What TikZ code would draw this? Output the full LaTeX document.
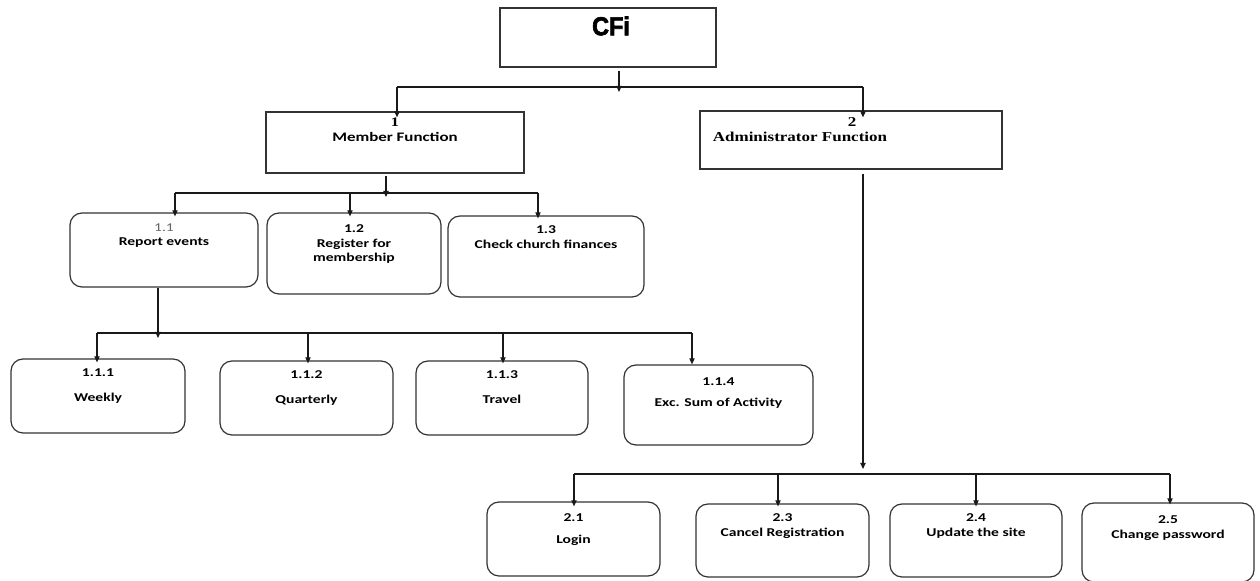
\documentclass[tikz,border=0pt]{standalone}
\usepackage{fontspec}
\newfontfamily\boxfont{Carlito}[FakeStretch=1.3]
\newfontfamily\serfont{Liberation Serif}[FakeStretch=1.25]
\newfontfamily\headfont{Liberation Sans}[FakeStretch=0.9,FakeBold=2.5]
\usetikzlibrary{arrows.meta,positioning}

\begin{document}
\begin{tikzpicture}[x=0.5pt,y=-0.5pt,
   sq/.style={draw=black!80,line width=0.6pt,inner sep=0pt},
   rbox/.style={sq,rounded corners=6pt},
   lbl/.style={inner sep=0pt,align=center,font=\boxfont\bfseries\fontsize{6}{7.2}\selectfont},
   conn/.style={draw=black!90,line width=0.55pt},
   arr/.style={conn,-{Triangle[length=3pt,width=2.6pt]}}]
   \useasboundingbox (0,0) rectangle (1260,581);

   % top level
   \node[sq,minimum width=108pt,minimum height=29.5pt] (cfi) at (608,37.5) {};
   \node[inner sep=0pt,font=\headfont\bfseries\fontsize{13}{14}\selectfont] (cfi_t) at (611,26) {CFi};

   % functions
   \node[sq,minimum width=129pt,minimum height=30.5pt] (m_1) at (395,142.5) {};
   \node[lbl,font=\boxfont\bfseries\fontsize{6.5}{7.5}\selectfont,below=3.3pt of m_1.north] (m_1t) {{\serfont 1}\\Member Function};
   \node[sq,minimum width=151pt,minimum height=29pt] (a_2) at (851,140) {};
   \node[inner sep=0pt,font=\serfont\bfseries\fontsize{6.8}{8}\selectfont] (a_2n) at (852,122) {2};
   \node[inner sep=0pt,font=\serfont\bfseries\fontsize{6.8}{8}\selectfont] (a_2t) at (800,137) {Administrator Function};

   % member sub functions
   \node[rbox,minimum width=94pt,minimum height=37pt] (r_11) at (164,250) {};
   \node[lbl,below=5.5pt of r_11.north] (r_11t) {{\mdseries\color{black!60}1.1}\\Report events};
   \node[rbox,minimum width=87pt,minimum height=40.5pt] (r_12) at (354,253.5) {};
   \node[lbl,below=6pt of r_12.north] (r_12t) {1.2\\Register for\\membership};
   \node[rbox,minimum width=98pt,minimum height=40.5pt] (r_13) at (546,256.5) {};
   \node[lbl,below=5pt of r_13.north] (r_13t) {1.3\\Check church finances};

   % report events
   \node[rbox,minimum width=87pt,minimum height=37pt] (r_111) at (98,396) {};
   \node[lbl,below=5pt of r_111.north] (r_111t) {1.1.1\\[5.3pt]Weekly};
   \node[rbox,minimum width=86.5pt,minimum height=37pt] (r_112) at (306.5,398) {};
   \node[lbl,below=5pt of r_112.north] (r_112t) {1.1.2\\[5.3pt]Quarterly};
   \node[rbox,minimum width=86pt,minimum height=37pt] (r_113) at (502,398) {};
   \node[lbl,below=5pt of r_113.north] (r_113t) {1.1.3\\[5.3pt]Travel};
   \node[rbox,minimum width=94.5pt,minimum height=40pt] (r_114) at (718.5,405) {};
   \node[lbl,below=6.5pt of r_114.north] (r_114t) {1.1.4\\[3.3pt]Exc. Sum of Activity};

   % administrator sub functions
   \node[rbox,minimum width=86.5pt,minimum height=37pt] (a_21) at (573.5,539) {};
   \node[lbl,below=6pt of a_21.north] (a_21t) {2.1\\[3.8pt]Login};
   \node[rbox,minimum width=86.5pt,minimum height=36.5pt] (a_23) at (782.5,540.5) {};
   \node[lbl,below=5pt of a_23.north] (a_23t) {2.3\\Cancel Registration};
   \node[rbox,minimum width=86pt,minimum height=36.5pt] (a_24) at (976,540.5) {};
   \node[lbl,below=5pt of a_24.north] (a_24t) {2.4\\Update the site};
   \node[rbox,minimum width=86pt,minimum height=39.5pt] (a_25) at (1168,542.5) {};
   \node[lbl,below=6.5pt of a_25.north] (a_25t) {2.5\\Change password};

   % connectors
   \coordinate (j_0) at (619,92);
   \coordinate (b_0w) at (397,87);
   \coordinate (b_0e) at (863,87);
   \draw[arr] ([yshift=-1.5pt]cfi.south -| j_0) -- (j_0);
   \draw[conn] (b_0w) -- (b_0e);
   \draw[arr,shorten >=-3pt] (b_0w) -- (b_0w |- m_1.north);
   \draw[arr,shorten >=-3.5pt] (b_0e) -- (b_0e |- a_2.north);

   \coordinate (j_1) at (386,197);
   \coordinate (b_1w) at (175,193);
   \coordinate (b_1m) at (350,193);
   \coordinate (b_1e) at (538,193);
   \draw[arr] ([yshift=-1pt]m_1.south -| j_1) -- (j_1);
   \draw[conn] (b_1w) -- (b_1e);
   \draw[arr,shorten >=-2pt] (b_1w) -- (b_1w |- r_11.north);
   \draw[arr,shorten >=-2pt] (b_1m) -- (b_1m |- r_12.north);
   \draw[arr,shorten >=-1.5pt] (b_1e) -- (b_1e |- r_13.north);

   \coordinate (j_2) at (158,338);
   \coordinate (b_2a) at (97,333);
   \coordinate (b_2b) at (308,333);
   \coordinate (b_2c) at (503,333);
   \coordinate (b_2d) at (692,333);
   \draw[arr] (r_11.south -| j_2) -- (j_2);
   \draw[conn] (b_2a) -- (b_2d);
   \draw[arr,shorten >=-2pt] (b_2a) -- (b_2a |- r_111.north);
   \draw[arr,shorten >=-1.5pt] (b_2b) -- (b_2b |- r_112.north);
   \draw[arr,shorten >=-1.5pt] (b_2c) -- (b_2c |- r_113.north);
   \draw[arr] (b_2d) -- (b_2d |- r_114.north);

   \coordinate (j_3) at (863,469);
   \coordinate (b_3a) at (574,474);
   \coordinate (b_3b) at (778,474);
   \coordinate (b_3c) at (976,474);
   \coordinate (b_3d) at (1170,474);
   \draw[arr] ([yshift=-2pt]a_2.south -| j_3) -- (j_3);
   \draw[conn] (b_3a) -- (b_3d);
   \draw[arr,shorten >=-2.5pt] (b_3a) -- (b_3a |- a_21.north);
   \draw[arr,shorten >=-1.5pt] (b_3b) -- (b_3b |- a_23.north);
   \draw[arr,shorten >=-1.5pt] (b_3c) -- (b_3c |- a_24.north);
   \draw[arr,shorten >=-1pt] (b_3d) -- (b_3d |- a_25.north);
\end{tikzpicture}
\end{document}
